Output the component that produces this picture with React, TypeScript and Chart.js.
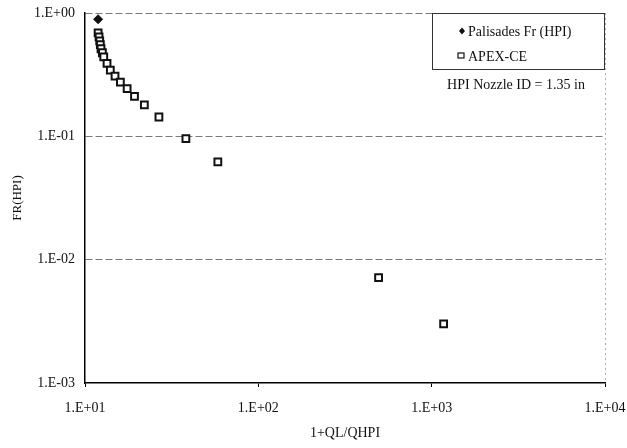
import React, { useEffect, useRef } from "react";
import { Chart, registerables } from "chart.js";

Chart.register(...registerables);

// ---- Data ----
const palisadesX = [11.9];
const palisadesY = [0.89];

const apexX = [11.9, 12.05, 12.16, 12.26, 12.37, 12.6, 12.83, 13.4, 14.0, 14.9, 16.0, 17.5, 19.3, 22.0, 26.7, 38.2, 58.4, 494, 1172];
const apexY = [0.69, 0.64, 0.595, 0.553, 0.513, 0.476, 0.441, 0.39, 0.344, 0.308, 0.275, 0.244, 0.211, 0.18, 0.1435, 0.0958, 0.062, 0.00714, 0.00302];

const xTickValues = [10, 100, 1000, 10000];
const yTickValues = [0.001, 0.01, 0.1, 1];

const seriesNames = ["Palisades Fr (HPI)", "APEX-CE"];
const noteText = "HPI Nozzle ID = 1.35 in";
const xTitle = "1+QL/QHPI";
const yTitle = "FR(HPI)";

const FONT = "'Liberation Serif', 'Times New Roman', serif";

function fmtExp(v: number): string {
  const e = Math.round(Math.log10(v));
  const s = e >= 0 ? "+" : "-";
  const a = Math.abs(e);
  return "1.E" + s + (a < 10 ? "0" + a : String(a));
}

const legendPlugin = {
  id: "customLegend",
  afterDraw(chart: any) {
    const ctx = chart.ctx as CanvasRenderingContext2D;
    const { right, top } = chart.chartArea;
    ctx.save();
    const bx = right - 173;
    const by = top;
    const bw = 172;
    const bh = 56;
    ctx.fillStyle = "#fff";
    ctx.fillRect(bx, by, bw, bh);
    ctx.strokeStyle = "#333";
    ctx.lineWidth = 1;
    ctx.strokeRect(bx + 0.5, by + 0.5, bw, bh);

    ctx.font = "14px " + FONT;
    ctx.fillStyle = "#111";
    ctx.textBaseline = "middle";
    ctx.textAlign = "left";

    // diamond marker
    const dx = bx + 30, dy = by + 18;
    ctx.beginPath();
    ctx.moveTo(dx, dy - 3.5);
    ctx.lineTo(dx + 3, dy);
    ctx.lineTo(dx, dy + 3.5);
    ctx.lineTo(dx - 3, dy);
    ctx.closePath();
    ctx.fill();
    ctx.fillText(seriesNames[0], bx + 36, by + 19);

    // square marker
    const sx = bx + 29, sy = by + 43;
    ctx.strokeStyle = "#111";
    ctx.lineWidth = 1.2;
    ctx.strokeRect(sx - 3, sy - 3, 6, 5);
    ctx.fillText(seriesNames[1], bx + 36, by + 44);

    ctx.textAlign = "center";
    ctx.fillText(noteText, bx + 84, by + 72);
    ctx.restore();
  },
};

export default function App() {
  const canvasRef = useRef<HTMLCanvasElement | null>(null);

  useEffect(() => {
    if (!canvasRef.current) return;
    const chart = new Chart(canvasRef.current, {
      type: "scatter",
      data: {
        datasets: [
          {
            label: seriesNames[0],
            data: palisadesX.map((x, i) => ({ x, y: palisadesY[i] })),
            pointStyle: "rectRot",
            pointRadius: 4.5,
            backgroundColor: "#111",
            borderColor: "#111",
            borderWidth: 1,
          },
          {
            label: seriesNames[1],
            data: apexX.map((x, i) => ({ x, y: apexY[i] })),
            pointStyle: "rect",
            pointRadius: 4.8,
            backgroundColor: "#fff",
            borderColor: "#111",
            borderWidth: 2,
          },
        ],
      },
      options: {
        animation: false,
        responsive: false,
        maintainAspectRatio: false,
        layout: { padding: { left: 0, right: 22, top: 13, bottom: 0 } },
        plugins: {
          legend: { display: false },
          tooltip: { enabled: false },
        },
        scales: {
          x: {
            type: "logarithmic",
            min: 10,
            max: 10000,
            afterBuildTicks: (scale: any) => {
              scale.ticks = xTickValues.map((v) => ({ value: v }));
            },
            afterFit: (scale: any) => {
              scale.height = 65;
              scale.paddingLeft = 0;
              scale.paddingRight = 0;
            },
            border: { display: true, color: "#000", width: 1.5, dash: [2, 3] },
            grid: {
              drawOnChartArea: true,
              color: (c: any) => (c.tick && c.tick.value === 10000 ? "#b0b0b0" : "rgba(0,0,0,0)"),
              lineWidth: 1,
              tickColor: "#000",
              tickLength: 4,
            },
            ticks: {
              callback: (v: any) => fmtExp(Number(v)),
              color: "#111",
              font: { family: FONT, size: 14 },
              padding: 13,
              maxRotation: 0,
              autoSkip: false,
            },
            title: {
              display: true,
              text: xTitle,
              color: "#111",
              font: { family: FONT, size: 14 },
              padding: { top: 0, bottom: 6 },
            },
          },
          y: {
            type: "logarithmic",
            min: 0.001,
            max: 1,
            afterBuildTicks: (scale: any) => {
              scale.ticks = yTickValues.map((v) => ({ value: v }));
            },
            afterFit: (scale: any) => {
              scale.width = 85;
              scale.paddingTop = 0;
              scale.paddingBottom = 0;
            },
            border: { display: true, color: "#000", width: 1.5, dash: [7, 3] },
            grid: {
              color: (c: any) => (c.tick && c.tick.value > 0.002 ? "#7a7a7a" : "rgba(0,0,0,0)"),
              lineWidth: 1,
              drawTicks: false,
            },
            ticks: {
              callback: (v: any) => fmtExp(Number(v)),
              color: "#111",
              font: { family: FONT, size: 14 },
              padding: 10,
              autoSkip: false,
            },
            title: {
              display: true,
              text: yTitle,
              color: "#111",
              font: { family: FONT, size: 13 },
              padding: { top: 10, bottom: 0 },
            },
          },
        },
      } as any,
      plugins: [legendPlugin],
    });
    return () => chart.destroy();
  }, []);

  return (
    <div style={{ position: "absolute", left: 0, top: 0, width: 627, height: 448, background: "#fff" }}>
      <canvas ref={canvasRef} width={627} height={448} style={{ display: "block" }} />
    </div>
  );
}
